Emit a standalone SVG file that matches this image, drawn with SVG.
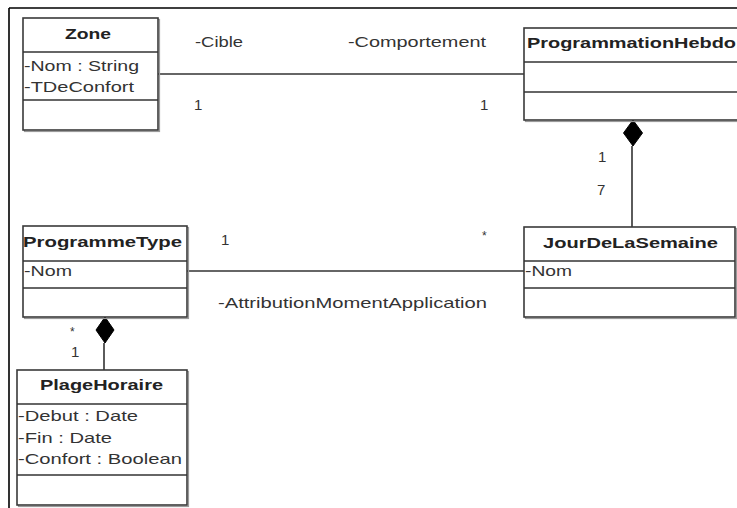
<svg xmlns="http://www.w3.org/2000/svg" width="737" height="508" viewBox="0 0 737 508">
<style>
.box{fill:#fff;stroke:#3a3a3a;stroke-width:1.6}
.shadow{fill:none;stroke:#9a9a9a;stroke-width:1.2}
.sep{stroke:#333;stroke-width:1.6}
.t{font-family:"Liberation Sans",Arial,sans-serif;font-size:15px;fill:#333}
.b{font-family:"Liberation Sans",Arial,sans-serif;font-size:15.5px;font-weight:bold;fill:#222}
.s{font-family:"Liberation Sans",Arial,sans-serif;font-size:12px;fill:#333}
.conn{stroke:#333;stroke-width:1.6;fill:none}
.dia{fill:#000;stroke:#000;stroke-width:1}
</style>
<rect x="0" y="0" width="737" height="508" fill="#fff"/>
<path d="M9,8 H737 M9,8 V508" stroke="#000" stroke-width="1.6" fill="none"/>

<g id="connectors">
<line class="conn" x1="158" y1="74" x2="524" y2="74"/>
<line class="conn" x1="187" y1="271" x2="524" y2="271"/>
<line class="conn" x1="632" y1="146" x2="632" y2="227"/>
<polygon class="dia" points="633,120 642.5,133 633,146 623.5,133"/>
<line class="conn" x1="104" y1="343" x2="104" y2="370"/>
<polygon class="dia" points="105,317 114,330 105,343 96,330"/>
<text class="t" x="195" y="47" textLength="48" lengthAdjust="spacingAndGlyphs">-Cible</text>
<text class="t" x="348" y="47" textLength="138" lengthAdjust="spacingAndGlyphs">-Comportement</text>
<text class="t" x="194" y="110">1</text>
<text class="t" x="480" y="110">1</text>
<text class="t" x="598" y="162">1</text>
<text class="t" x="597" y="195">7</text>
<text class="t" x="221" y="245">1</text>
<text class="s" x="482" y="240">*</text>
<text class="t" x="218" y="308" textLength="269" lengthAdjust="spacingAndGlyphs">-AttributionMomentApplication</text>
<text class="s" x="70" y="336">*</text>
<text class="t" x="71" y="357">1</text>
</g>

<g id="zone">
<rect class="shadow" x="24.5" y="19.5" width="135" height="112"/>
<rect class="box" x="23" y="18" width="135" height="112"/>
<line class="sep" x1="23" y1="52" x2="158" y2="52"/>
<line class="sep" x1="23" y1="100" x2="158" y2="100"/>
<text class="b" x="65" y="39" textLength="46" lengthAdjust="spacingAndGlyphs">Zone</text>
<text class="t" x="24" y="71" textLength="115" lengthAdjust="spacingAndGlyphs">-Nom : String</text>
<text class="t" x="24" y="92" textLength="110" lengthAdjust="spacingAndGlyphs">-TDeConfort</text>
</g>

<g id="programmationhebdo">
<rect class="shadow" x="525.5" y="29.5" width="240" height="92"/>
<rect class="box" x="524" y="28" width="240" height="92"/>
<line class="sep" x1="524" y1="62" x2="764" y2="62"/>
<line class="sep" x1="524" y1="92" x2="764" y2="92"/>
<text class="b" x="527" y="48" textLength="209" lengthAdjust="spacingAndGlyphs">ProgrammationHebdo</text>
</g>

<g id="programmetype">
<rect class="shadow" x="24.5" y="227.5" width="164" height="91"/>
<rect class="box" x="23" y="226" width="164" height="91"/>
<line class="sep" x1="23" y1="261" x2="187" y2="261"/>
<line class="sep" x1="23" y1="288" x2="187" y2="288"/>
<text class="b" x="23" y="247" textLength="159" lengthAdjust="spacingAndGlyphs">ProgrammeType</text>
<text class="t" x="24" y="276" textLength="48" lengthAdjust="spacingAndGlyphs">-Nom</text>
</g>

<g id="jourdelasemaine">
<rect class="shadow" x="525.5" y="228.5" width="211" height="90"/>
<rect class="box" x="524" y="227" width="211" height="90"/>
<line class="sep" x1="524" y1="261" x2="735" y2="261"/>
<line class="sep" x1="524" y1="288" x2="735" y2="288"/>
<text class="b" x="543" y="248" textLength="175" lengthAdjust="spacingAndGlyphs">JourDeLaSemaine</text>
<text class="t" x="525" y="276" textLength="47" lengthAdjust="spacingAndGlyphs">-Nom</text>
</g>

<g id="plagehoraire">
<rect class="shadow" x="18.5" y="371.5" width="170" height="135"/>
<rect class="box" x="17" y="370" width="170" height="135"/>
<line class="sep" x1="17" y1="404" x2="187" y2="404"/>
<line class="sep" x1="17" y1="475" x2="187" y2="475"/>
<text class="b" x="40" y="390" textLength="123" lengthAdjust="spacingAndGlyphs">PlageHoraire</text>
<text class="t" x="18" y="421" textLength="120" lengthAdjust="spacingAndGlyphs">-Debut : Date</text>
<text class="t" x="18" y="443" textLength="94" lengthAdjust="spacingAndGlyphs">-Fin : Date</text>
<text class="t" x="18" y="464" textLength="164" lengthAdjust="spacingAndGlyphs">-Confort : Boolean</text>
</g>
</svg>
